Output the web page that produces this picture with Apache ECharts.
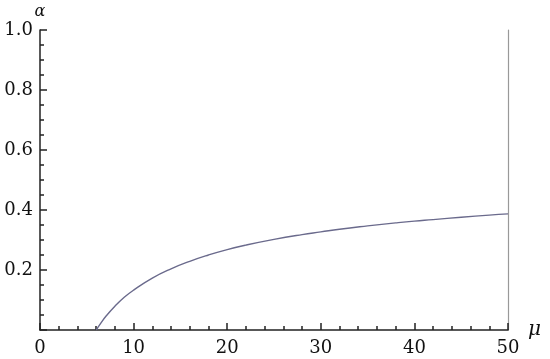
<!DOCTYPE html>
<html>
<head>
<meta charset="utf-8">
<script src="https://cdn.jsdelivr.net/npm/echarts@6/dist/echarts.min.js"></script>
<style>
  html, body { margin: 0; padding: 0; background: #fff; }
  #chart { width: 550px; height: 359px; }
</style>
</head>
<body>
<div id="chart"></div>
<script>
  // mu values
  var mu = [6, 6.5, 7, 8, 9, 10, 12, 14, 16, 18, 20, 22, 25, 28, 30, 32, 35, 38, 40, 42, 45, 48, 50]
  // alpha values at those mu
  var alpha = [0, 0.023, 0.044, 0.079, 0.109, 0.133, 0.173, 0.204, 0.229, 0.250, 0.268, 0.283,
               0.302, 0.318, 0.327, 0.336, 0.347, 0.357, 0.363, 0.368, 0.376, 0.383, 0.387]
  var xName = 'μ'
  var yName = 'α'

  var pts = mu.map(function (m, i) { return [m, alpha[i]] })
  var labelFont = { fontFamily: 'DejaVu Serif', fontSize: 18, color: '#111' }

  var myChart = echarts.init(document.getElementById('chart'))
  myChart.setOption({
    animation: false,
    grid: { left: 40, right: 42, top: 30, bottom: 29 },
    xAxis: {
      type: 'value',
      min: 0, max: 50, interval: 10,
      name: xName,
      nameLocation: 'end',
      nameGap: 20,
      nameTextStyle: { fontFamily: 'DejaVu Serif', fontStyle: 'italic', fontSize: 20, color: '#111' },
      axisLine: { onZero: false, lineStyle: { color: '#222', width: 1.5 } },
      axisTick: { show: true, inside: true, length: 7, lineStyle: { color: '#222', width: 1.5 } },
      minorTick: { show: true, splitNumber: 5, length: 4, lineStyle: { color: '#222', width: 1.5 } },
      axisLabel: Object.assign({ margin: 9 }, labelFont),
      splitLine: { show: false }
    },
    yAxis: [{
      // main axis: line and ticks
      type: 'value',
      min: 0, max: 1, interval: 0.2,
      name: yName,
      nameLocation: 'end',
      nameGap: 10,
      nameTextStyle: { fontFamily: 'DejaVu Serif', fontStyle: 'italic', fontSize: 16, color: '#111', align: 'center' },
      axisLine: { onZero: false, lineStyle: { color: '#222', width: 1.5 } },
      axisTick: { inside: true, length: 7, lineStyle: { color: '#222', width: 1.5 } },
      minorTick: { show: true, splitNumber: 4, length: 4, lineStyle: { color: '#222', width: 1.5 } },
      axisLabel: { show: false },
      splitLine: { show: false }
    }, {
      // frame line at mu = 50
      type: 'value',
      position: 'right',
      min: 0, max: 1,
      axisLine: { show: true, onZero: false, lineStyle: { color: '#999', width: 1.2 } },
      axisTick: { show: false },
      axisLabel: { show: false },
      splitLine: { show: false }
    }, {
      // tick labels only
      type: 'value',
      position: 'left',
      min: 0, max: 1, interval: 0.2,
      axisLine: { show: false, onZero: false },
      axisTick: { show: false },
      axisLabel: Object.assign({
        margin: 7,
        showMinLabel: false,
        formatter: function (v) { return v.toFixed(1) }
      }, labelFont),
      splitLine: { show: false }
    }],
    series: [{
      type: 'line',
      data: pts,
      smooth: true,
      showSymbol: false,
      lineStyle: { color: '#6a6a8c', width: 1.4 }
    }]
  })
</script>
</body>
</html>
